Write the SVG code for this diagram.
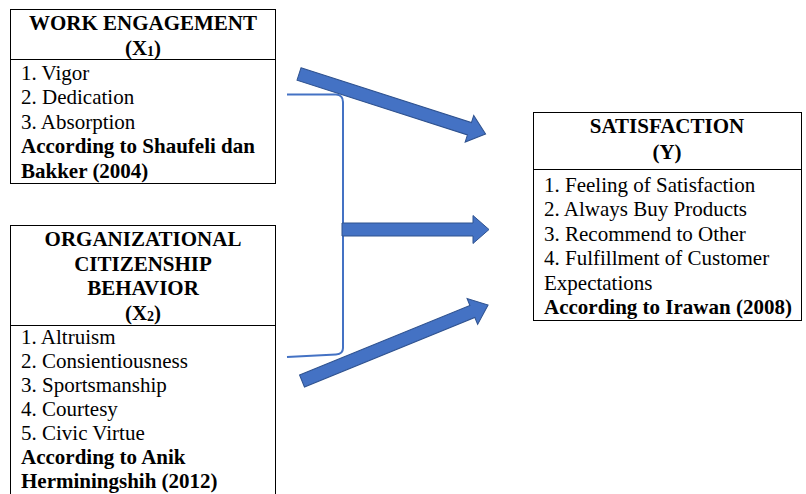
<svg xmlns="http://www.w3.org/2000/svg" width="806" height="494" viewBox="0 0 806 494">
<style>
.box{fill:#fff;stroke:#000;stroke-width:1}
.t{font-family:"Liberation Serif","Times New Roman",serif;font-size:21px;fill:#000}
.b{font-weight:bold}
.c{text-anchor:middle}
.arrow{fill:#4472C4;stroke:#2F528F;stroke-width:1}
.br{fill:none;stroke:#4472C4;stroke-width:2}
</style>
<rect width="806" height="494" fill="#fff"/>
<g id="x1">
<rect class="box" x="10.5" y="9.5" width="265" height="174"/>
<line x1="10.5" y1="59.5" x2="275.5" y2="59.5" stroke="#000"/>
<text class="t b c" x="143" y="30">WORK ENGAGEMENT</text>
<text class="t b c" x="143" y="55">(X<tspan font-size="14" dy="1">1</tspan><tspan dy="-1">)</tspan></text>
<text class="t" x="21" y="80">1. Vigor</text>
<text class="t" x="21" y="104">2. Dedication</text>
<text class="t" x="21" y="129">3. Absorption</text>
<text class="t b" x="21" y="153">According to Shaufeli dan</text>
<text class="t b" x="21" y="178">Bakker (2004)</text>
</g>
<g id="x2">
<rect class="box" x="10.5" y="225.5" width="265" height="280"/>
<line x1="10.5" y1="325.5" x2="275.5" y2="325.5" stroke="#000"/>
<text class="t b c" x="143" y="246">ORGANIZATIONAL</text>
<text class="t b c" x="143" y="271">CITIZENSHIP</text>
<text class="t b c" x="143" y="295">BEHAVIOR</text>
<text class="t b c" x="143" y="320">(X<tspan font-size="14" dy="1">2</tspan><tspan dy="-1">)</tspan></text>
<text class="t" x="21" y="344">1. Altruism</text>
<text class="t" x="21" y="368">2. Consientiousness</text>
<text class="t" x="21" y="392">3. Sportsmanship</text>
<text class="t" x="21" y="416">4. Courtesy</text>
<text class="t" x="21" y="440">5. Civic Virtue</text>
<text class="t b" x="21" y="464">According to Anik</text>
<text class="t b" x="21" y="488">Herminingshih (2012)</text>
</g>
<g id="y">
<rect class="box" x="533.5" y="112.5" width="268" height="208"/>
<line x1="533.5" y1="169.5" x2="801.5" y2="169.5" stroke="#000"/>
<text class="t b c" x="667" y="133">SATISFACTION</text>
<text class="t b c" x="667" y="159">(Y)</text>
<text class="t" x="544" y="192">1. Feeling of Satisfaction</text>
<text class="t" x="544" y="216">2. Always Buy Products</text>
<text class="t" x="544" y="241">3. Recommend to Other</text>
<text class="t" x="544" y="265">4. Fulfillment of Customer</text>
<text class="t" x="544" y="290">Expectations</text>
<text class="t b" x="544" y="314">According to Irawan (2008)</text>
</g>
<g id="connectors">
<path class="br" d="M287,94.5 L336,94.5 Q343,95 343,102 L343,348 Q343,354 336,354.5 L287,357"/>
<polygon class="arrow" transform="translate(299,74) rotate(17.8)" points="0,-6.5 179,-6.5 179,-14 196,0 179,14 179,6.5 0,6.5"/>
<polygon class="arrow" transform="translate(342,229.5)" points="0,-6.5 131,-6.5 131,-14 147,0 131,14 131,6.5 0,6.5"/>
<polygon class="arrow" transform="translate(302,381) rotate(-22.2)" points="0,-6.5 184,-6.5 184,-14 201,0 184,14 184,6.5 0,6.5"/>
</g>
</svg>
